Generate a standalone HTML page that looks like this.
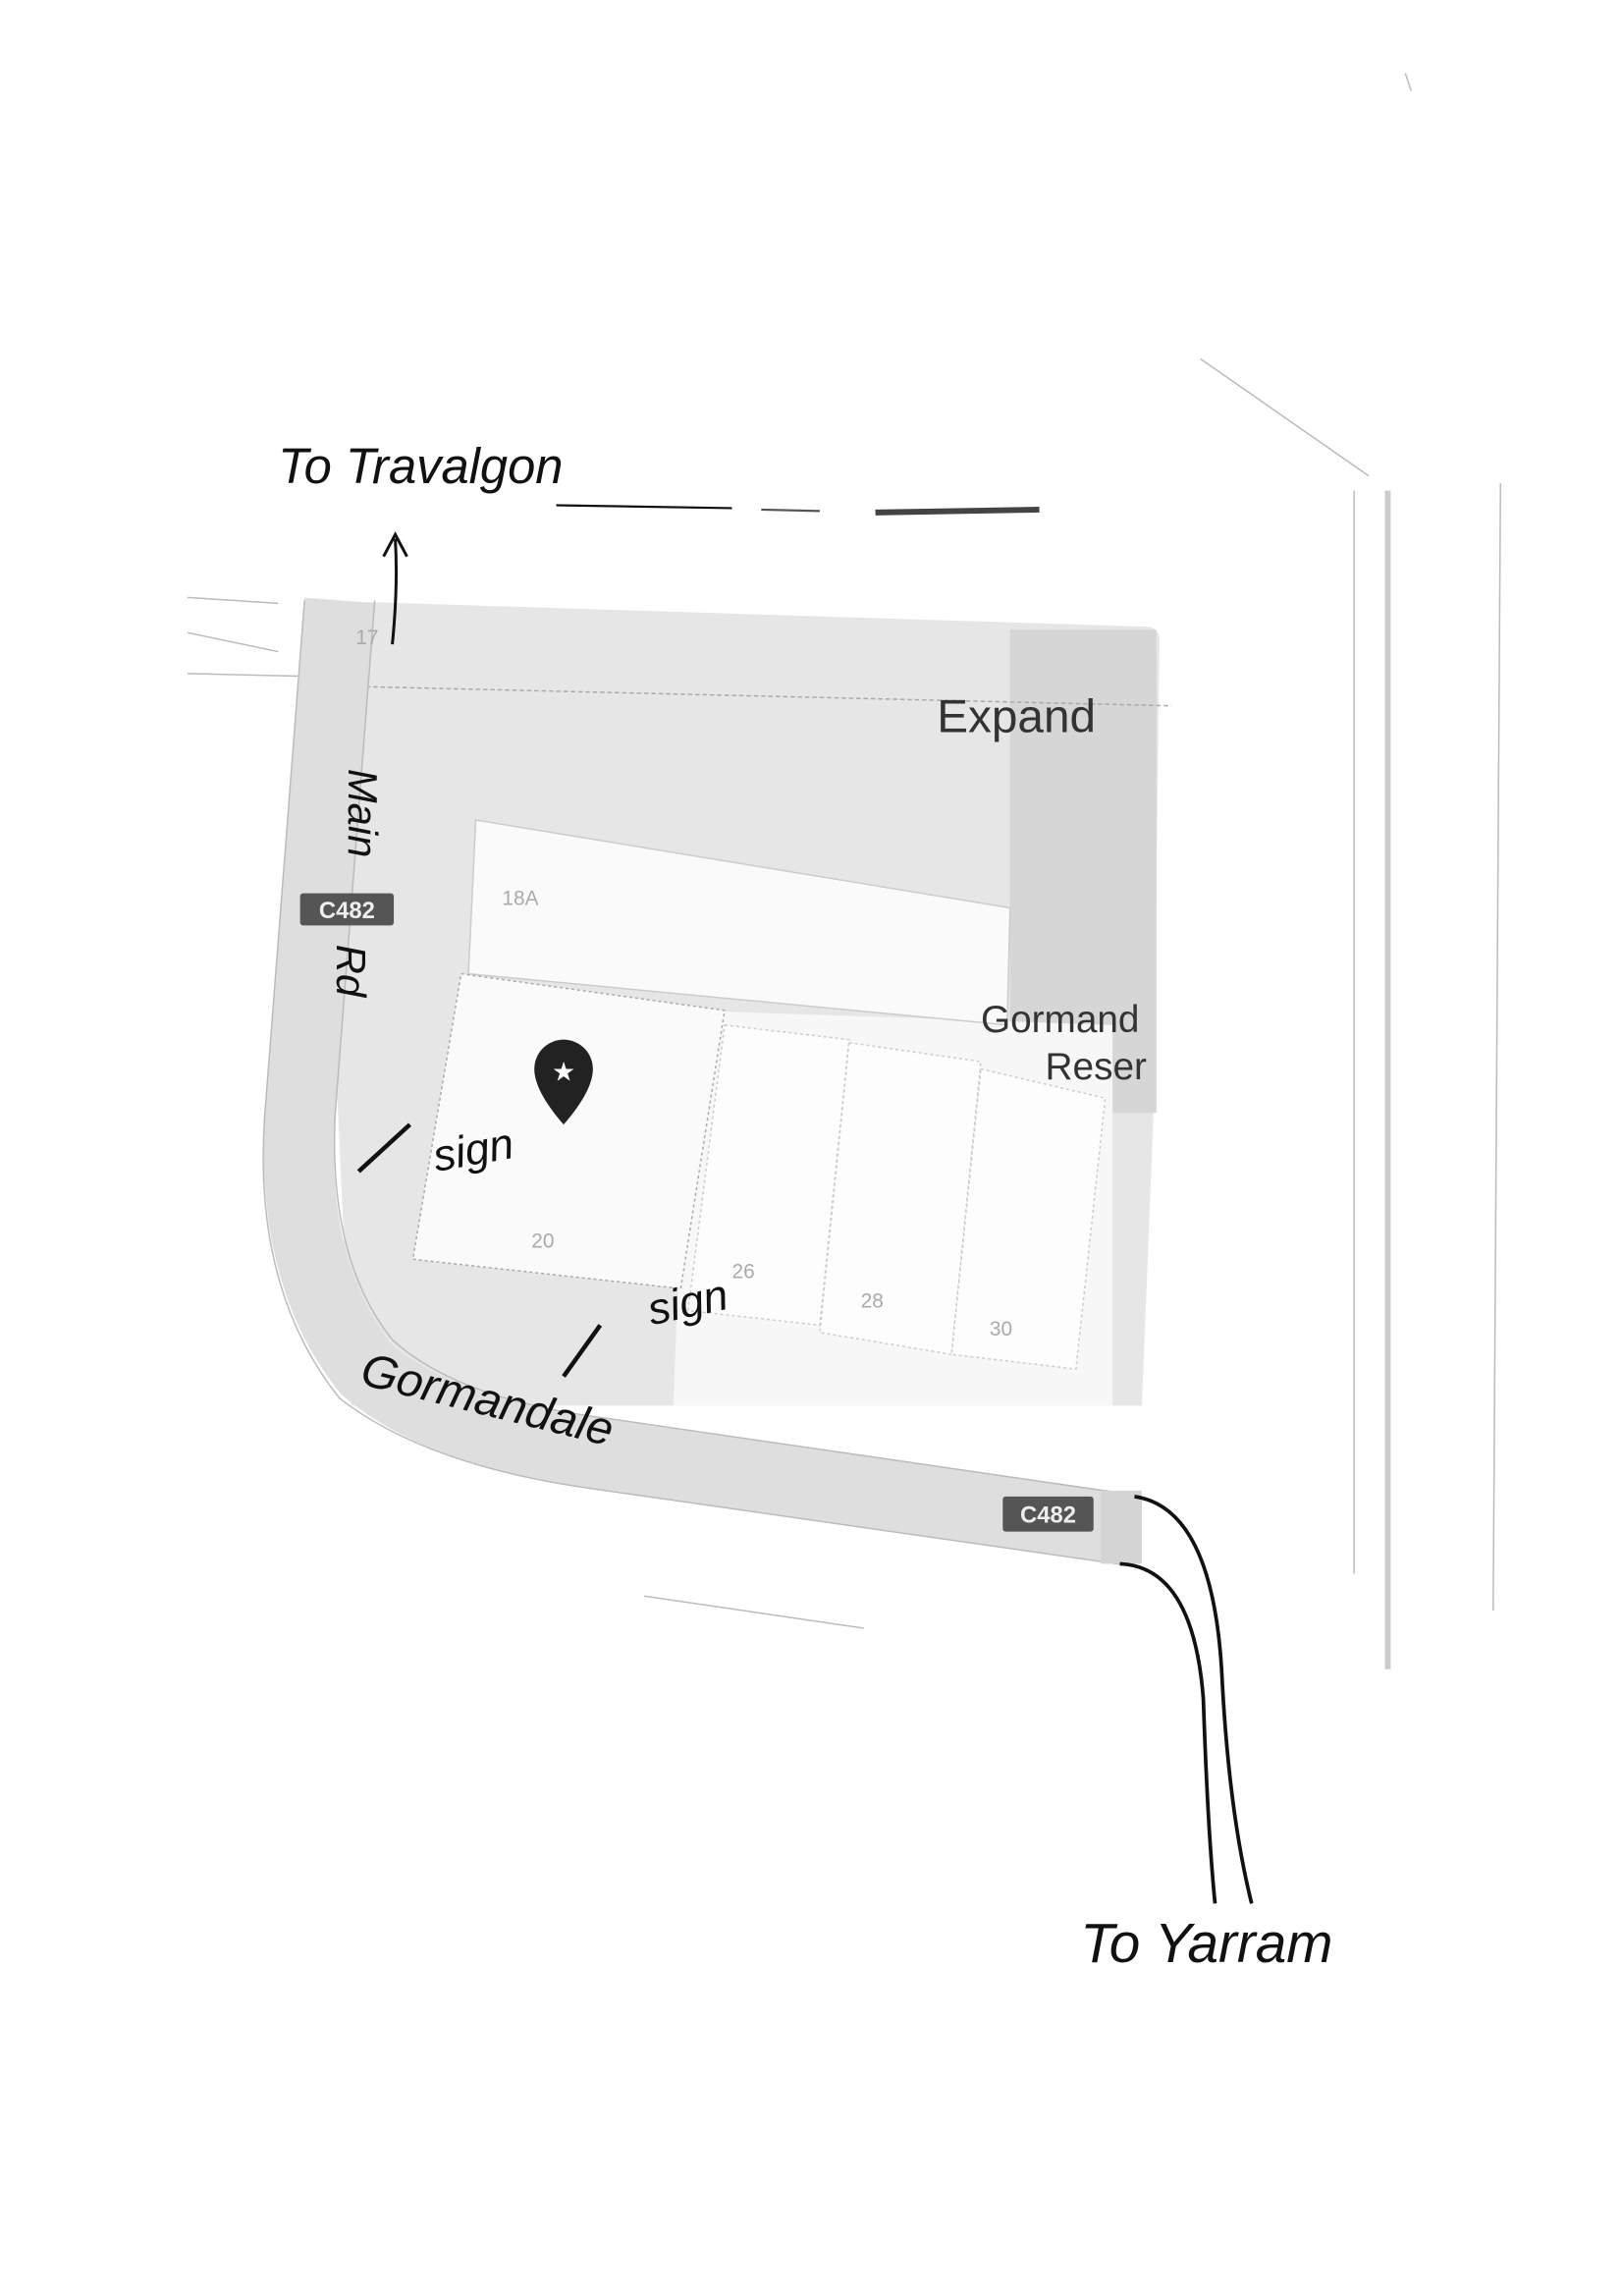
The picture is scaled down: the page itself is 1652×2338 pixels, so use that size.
<!DOCTYPE html>
<html><head><meta charset="utf-8"><style>
html,body{margin:0;padding:0;background:#fff;}
svg{display:block;}
.hw{font-family:"Liberation Sans",sans-serif;fill:#111;font-style:italic;}
</style></head><body>
<svg width="1652" height="2338" viewBox="0 0 1108 1568" xmlns="http://www.w3.org/2000/svg">
<rect width="1108" height="1568" fill="#fff"/>
<g stroke="#bbb" stroke-width="1" fill="none">
<line x1="820" y1="245" x2="935" y2="325"/>
<line x1="1025" y1="330" x2="1020" y2="1100"/>
<line x1="925" y1="335" x2="925" y2="1075"/>
<line x1="128" y1="408" x2="190" y2="412"/>
<line x1="128" y1="432" x2="190" y2="445"/>
<line x1="128" y1="460" x2="215" y2="462"/>
<line x1="440" y1="1090" x2="590" y2="1112"/>
<line x1="960" y1="50" x2="964" y2="62"/>
</g>
<line x1="948" y1="335" x2="948" y2="1140" stroke="#ccc" stroke-width="4"/>
<path d="M215 410 L785 428 Q793 430 792 440 L788 760 L780 960 L240 960 Z" fill="#e6e6e6"/>
<rect x="690" y="430" width="100" height="330" fill="#d6d6d6"/>
<path d="M470 690 L760 700 L760 960 L460 960 Z" fill="#f7f7f7"/>
<path d="M325 560 L690 620 L688 700 L320 665 Z" fill="#fafafa" stroke="#ccc"/>
<path d="M315 665 L495 690 L465 880 L282 860 Z" fill="#fafafa" stroke="#aaa" stroke-dasharray="2,2"/>
<path d="M495 700 L580 710 L560 905 L470 895 Z" fill="#fdfdfd" stroke="#ccc" stroke-dasharray="2,2"/>
<path d="M580 712 L670 725 L650 925 L560 910 Z" fill="#fdfdfd" stroke="#ccc" stroke-dasharray="2,2"/>
<path d="M670 730 L755 750 L735 935 L650 925 Z" fill="#fdfdfd" stroke="#ccc" stroke-dasharray="2,2"/>
<line x1="210" y1="468" x2="800" y2="482" stroke="#aaa" stroke-dasharray="3,2"/>
<!-- road -->
<path d="M232 410 L205 760 Q198 870 250 935 Q300 978 405 992 L772 1045" fill="none" stroke="#dedede" stroke-width="48"/>
<path d="M256 410 L229 760 Q224 860 268 915 Q312 955 410 968 L775 1021" fill="none" stroke="#bbb" stroke-width="1"/>
<path d="M208 410 L181 760 Q172 880 232 955 Q290 1000 400 1016 L770 1069" fill="none" stroke="#bbb" stroke-width="1"/>
<rect x="752" y="1018" width="28" height="50" fill="#d4d4d4"/>
<text x="640" y="500" font-family="Liberation Sans" font-size="32" fill="#333">Expand</text>
<text x="670" y="705" font-family="Liberation Sans" font-size="26" fill="#333">Gormand</text>
<text x="714" y="737" font-family="Liberation Sans" font-size="26" fill="#333">Reser</text>
<text x="343" y="618" font-family="Liberation Sans" font-size="14" fill="#aaa">18A</text>
<text x="363" y="852" font-family="Liberation Sans" font-size="14" fill="#aaa">20</text>
<text x="500" y="873" font-family="Liberation Sans" font-size="14" fill="#aaa">26</text>
<text x="588" y="893" font-family="Liberation Sans" font-size="14" fill="#aaa">28</text>
<text x="676" y="912" font-family="Liberation Sans" font-size="14" fill="#aaa">30</text>
<text x="243" y="440" font-family="Liberation Sans" font-size="14" fill="#aaa">17</text>
<rect x="205" y="610" width="64" height="22" fill="#555" rx="2"/>
<text x="237" y="627" text-anchor="middle" font-family="Liberation Sans" font-weight="bold" font-size="16" fill="#eee">C482</text>
<rect x="685" y="1022" width="62" height="24" fill="#555" rx="2"/>
<text x="716" y="1040" text-anchor="middle" font-family="Liberation Sans" font-weight="bold" font-size="16" fill="#eee">C482</text>
<path d="M385 768 Q365 745 365 730 A20 20 0 1 1 405 730 Q405 745 385 768 Z" fill="#222"/>
<text x="385" y="738" text-anchor="middle" font-size="18" fill="#fff">★</text>
<text class="hw" x="190" y="330" font-size="34">To Travalgon</text>
<line x1="380" y1="345" x2="500" y2="347" stroke="#111" stroke-width="1.5"/>
<line x1="520" y1="348" x2="560" y2="349" stroke="#555" stroke-width="1.5"/>
<line x1="598" y1="350" x2="710" y2="348" stroke="#444" stroke-width="4"/>
<path d="M268 440 Q272 400 270 368 M262 380 L270 365 L278 380" fill="none" stroke="#111" stroke-width="2"/>
<text class="hw" font-size="28" transform="translate(238,525) rotate(90)">Main</text>
<text class="hw" font-size="28" transform="translate(230,645) rotate(90)">Rd</text>
<line x1="245" y1="800" x2="280" y2="768" stroke="#111" stroke-width="3"/>
<text class="hw" x="298" y="800" font-size="30" transform="rotate(-10 298 800)">sign</text>
<line x1="385" y1="940" x2="410" y2="905" stroke="#111" stroke-width="3"/>
<text class="hw" x="445" y="905" font-size="30" transform="rotate(-12 445 905)">sign</text>
<text class="hw" x="245" y="945" font-size="32" transform="rotate(14 245 945)">Gormandale</text>
<path d="M775 1022 Q830 1030 835 1150 Q840 1240 855 1300" fill="none" stroke="#111" stroke-width="2.5"/>
<path d="M765 1068 Q815 1070 822 1160 Q825 1250 830 1300" fill="none" stroke="#111" stroke-width="2.5"/>
<text class="hw" x="738" y="1340" font-size="38">To Yarram</text>
</svg>
</body></html>
